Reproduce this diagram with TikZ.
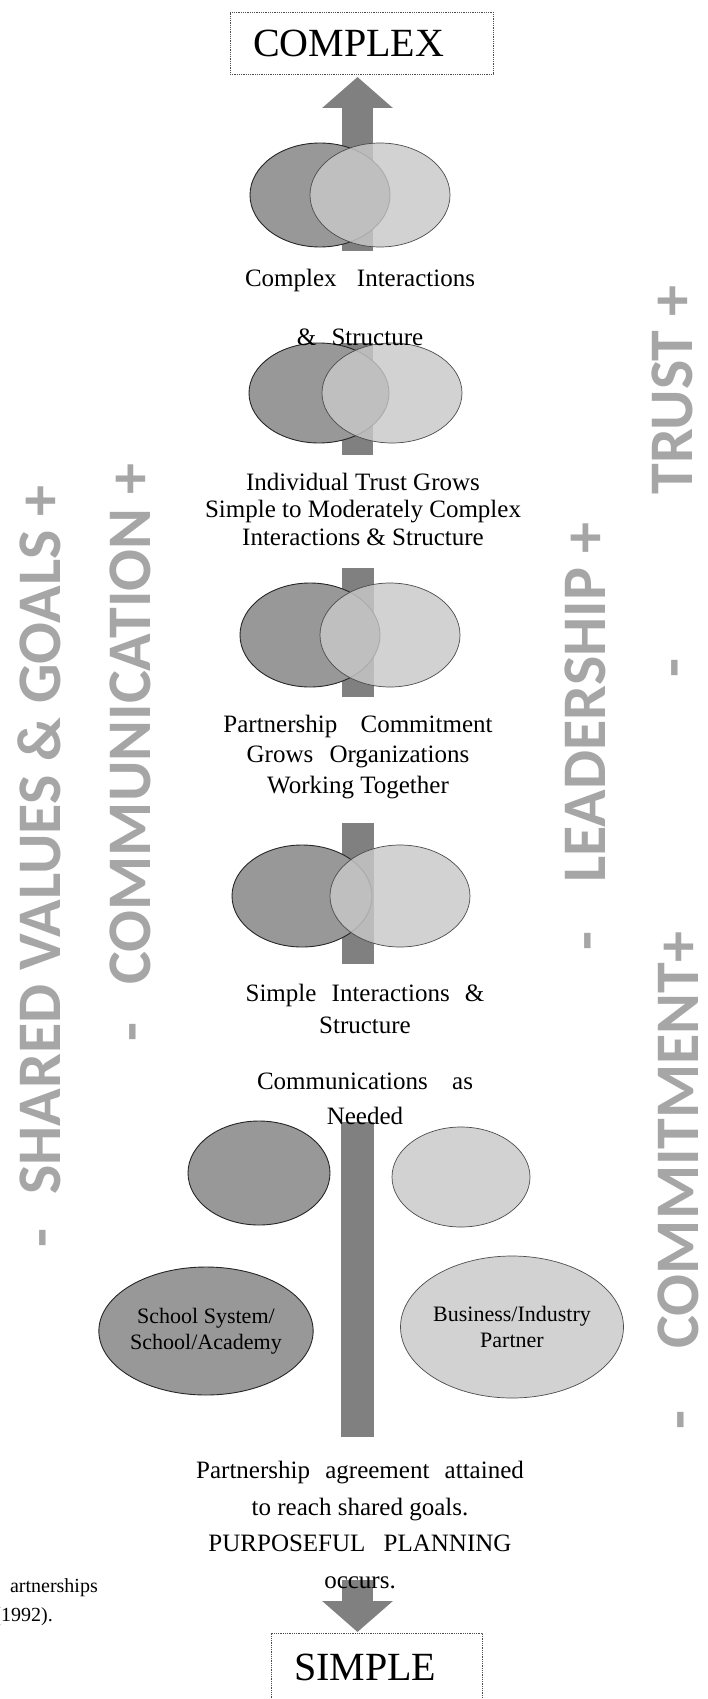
\documentclass[tikz,border=0pt]{standalone}
\usepackage{fontspec}
\setmainfont{Liberation Serif}
\newfontfamily\sidefont{Carlito}
\usetikzlibrary{shapes.geometric,arrows.meta,positioning}

\definecolor{darkfill}{RGB}{152,152,152}
\definecolor{lightfill}{RGB}{200,200,200}
\definecolor{barfill}{RGB}{128,128,128}
\definecolor{sidegray}{RGB}{166,166,166}

\begin{document}
\begin{tikzpicture}[x=1pt, y=-1pt,
  darkoval/.style={ellipse, draw=black!85, line width=0.9pt, fill=darkfill, inner sep=0pt},
  lightoval/.style={ellipse, draw=black!70, line width=0.7pt, fill=lightfill,
    fill opacity=0.82, text opacity=1, inner sep=0pt},
  endbox/.style={draw=black!70, densely dotted, line width=0.8pt, align=left,
    font=\fontsize{40}{44}\selectfont, inner ysep=0pt, inner xsep=23pt},
  lbl/.style={align=center, inner sep=0pt},
  ovaltext/.style={align=center, font=\fontsize{22}{26}\selectfont},
  sidelabel/.style={rotate=90, anchor=base, text=sidegray, inner sep=0pt,
    font=\sidefont\bfseries\fontsize{62}{62}\selectfont},
  bigarrow/.style={draw=barfill, line width=31pt, -{Triangle[width=69pt,length=31pt]}},
  bar/.style={fill=barfill}
]
\useasboundingbox (0,0) rectangle (708,1699);

% end boxes
\node[endbox, text width=217pt, minimum height=62pt] (complex) at (361.5,43) {COMPLEX};
\node[endbox, text width=165pt, minimum height=68pt] (simplebox) at (376.5,1667) {SIMPLE};

% central bar and arrows
\coordinate (upbase) at (357.5,251);
\coordinate (uptip) at (357.5,77);
\coordinate (downbase) at (357.5,1580);
\coordinate (downtip) at (357.5,1632);
\draw[bigarrow] (upbase) -- (uptip);
\draw[bigarrow] (downbase) -- (downtip);
\fill[bar] (342,343) rectangle (373,455);
\fill[bar] (342,568) rectangle (374,697);
\fill[bar] (342,823) rectangle (374,964);
\fill[bar] (341,1122) rectangle (374,1437);

% overlapping pairs
\foreach \k/\yy/\xl/\xr/\hh in {1/195/320/380/104, 2/393/319/392/100,
    3/635/310/390/104, 4/896/302/400/102}{
  \node[darkoval, minimum width=140pt, minimum height=\hh pt] (lft\k) at (\xl,\yy) {};
  \node[lightoval, minimum width=140pt, minimum height=\hh pt] (rgt\k) at (\xr,\yy) {};
}

% separate partners
\node[darkoval, minimum width=142pt, minimum height=104pt] (solol) at (259,1173) {};
\node[lightoval, minimum width=138pt, minimum height=100pt] (solor) at (461,1177) {};
\node[darkoval, ovaltext, minimum width=202pt, minimum height=128pt] (school) at (206,1331)
  {School System/\\School/Academy};
\node[lightoval, ovaltext, minimum width=190pt, minimum height=142pt] (business) at (512,1327)
  {Business/Industry\\Partner};

% stage texts
\node[lbl, font=\fontsize{25}{59}\selectfont] (cplx) at (360,307)
  {Complex\hspace{14pt} Interactions\\\&\hspace{9pt} Structure};
\node[lbl, font=\fontsize{25}{27.5}\selectfont] (indiv) at (363,509)
  {Individual Trust Grows\\Simple to Moderately Complex\\Interactions \& Structure};
\node[lbl, font=\fontsize{25}{30.5}\selectfont] (commit) at (358,757)
  {Partnership\hspace{17pt} Commitment\\Grows\hspace{10pt} Organizations\\Working Together};
\node[lbl, font=\fontsize{25}{32}\selectfont] (simp) at (365,1009)
  {Simple\hspace{9pt} Interactions\hspace{9pt} \&\\Structure};
\node[lbl, font=\fontsize{25}{35}\selectfont] (comms) at (365,1099)
  {Communications\hspace{18pt} as\\Needed};
\node[lbl, font=\fontsize{25}{36.5}\selectfont] (agree) at (360,1525)
  {Partnership\hspace{9pt} agreement\hspace{9pt} attained\\to reach shared goals.\\PURPOSEFUL\hspace{12pt} PLANNING\\occurs.};

% cut caption
\node[anchor=base east, inner sep=0pt, font=\fontsize{20}{24}\selectfont] (cap1) at (98,1592) {artnerships};
\node[anchor=base east, inner sep=0pt, font=\fontsize{20}{24}\selectfont] (cap2) at (53,1621) {(1992).};

% side scales
\node[sidelabel] (shared) at (60,840) {SHARED VALUES \& GOALS +};
\node[sidelabel] (sharedlo) at (60,1238) {-};
\node[sidelabel] (comm) at (150,724) {COMMUNICATION +};
\node[sidelabel] (commlo) at (150,1032) {-};
\node[sidelabel] (lead) at (605,703) {LEADERSHIP +};
\node[sidelabel] (leadlo) at (605,941) {-};
\node[sidelabel] (trust) at (692,390) {TRUST +};
\node[sidelabel] (trustlo) at (692,668) {-};
\node[sidelabel] (commt) at (698,1140) {COMMITMENT+};
\node[sidelabel] (commtlo) at (698,1420) {-};

\end{tikzpicture}
\end{document}
